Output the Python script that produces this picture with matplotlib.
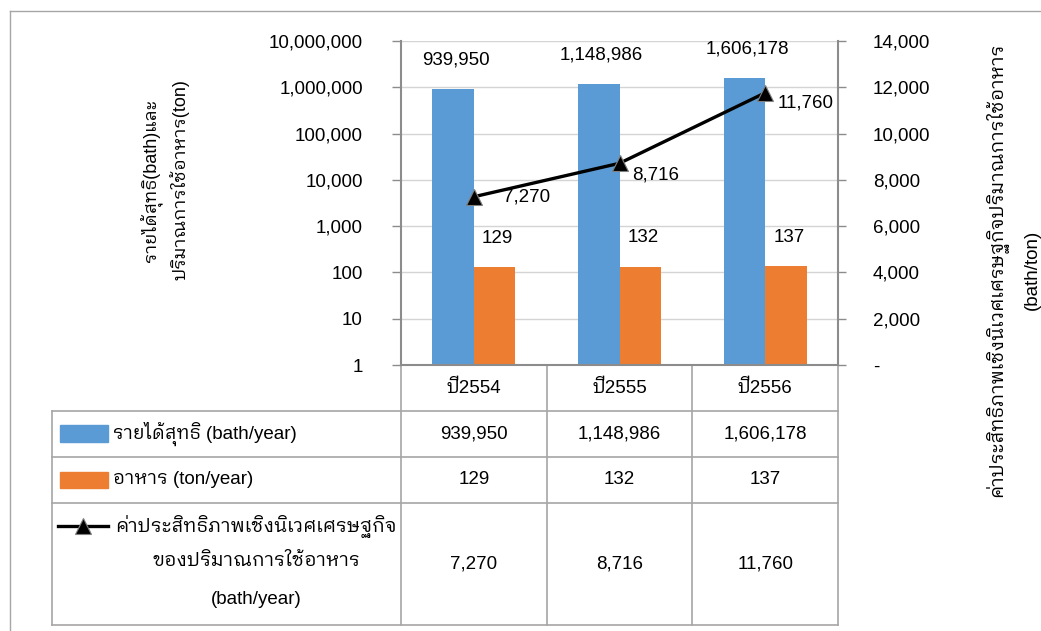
import matplotlib
matplotlib.use("Agg")
import matplotlib.pyplot as plt
from matplotlib.patches import Rectangle
from matplotlib.ticker import FuncFormatter, NullLocator

plt.rcParams['font.family'] = ['Liberation Sans', 'IBM Plex Sans Thai Looped', 'DejaVu Sans']

# data
years = ['ปี2554', 'ปี2555', 'ปี2556']
income = [939950, 1148986, 1606178]          # bath/year
food = [129, 132, 137]                       # ton/year
eco_eff = [7270, 8716, 11760]                # bath/ton

income_name = 'รายได้สุทธิ (bath/year)'
food_name = 'อาหาร (ton/year)'
eff_name = ['ค่าประสิทธิภาพเชิงนิเวศเศรษฐกิจ', 'ของปริมาณการใช้อาหาร', '(bath/year)']
left_title = ['รายได้สุทธิ(bath)และ', 'ปริมาณการใช้อาหาร(ton)']
right_title = ['ค่าประสิทธิภาพเชิงนิเวศเศรษฐกิจปริมาณการใช้อาหาร', '(bath/ton)']

BLUE = '#5b9bd5'
ORANGE = '#ed7d31'
GRID = '#d4d4d4'
EDGE = '#8c8c8c'
TABLE = '#a6a6a6'
FS = 13.5
FS_TH = 13.7   # lines that are all Thai script

W, H = 1041, 631
fig = plt.figure(figsize=(W / 100, H / 100), dpi=100)

# overlay in pixel units for the data table and titles
tab = fig.add_axes([0, 0, 1, 1])
tab.set_xlim(0, W)
tab.set_ylim(H, 0)
tab.axis('off')

ax = fig.add_axes([401 / W, (H - 365) / H, 437 / W, 324 / H])
ax.set_yscale('log')
ax.set_ylim(1, 1e7)
ax.set_xlim(-0.5, 2.5)
ax.set_yticks([10 ** k for k in range(8)])
ax.yaxis.set_minor_locator(NullLocator())
ax.yaxis.set_major_formatter(FuncFormatter(lambda v, p: f'{v:,.0f}'))
ax.set_xticks([])
ax.grid(axis='y', color=GRID, lw=1.0)
ax.set_axisbelow(True)
ax.tick_params(axis='y', direction='out', length=6.5, width=1, color=EDGE,
               pad=21, labelsize=FS)
ax.spines['top'].set_visible(False)
ax.spines['right'].set_visible(False)
for s in ('left', 'bottom'):
    ax.spines[s].set_color(EDGE)
    ax.spines[s].set_linewidth(1.5)

bw = 0.285
xs = list(range(len(years)))
b1 = ax.bar([x - bw / 2 for x in xs], income, width=bw, color=BLUE, bottom=1)
b2 = ax.bar([x + bw / 2 for x in xs], food, width=bw, color=ORANGE, bottom=1)
for bars, vals in ((b1, income), (b2, food)):
    for r, v in zip(bars, vals):
        ax.annotate(f'{v:,}', (r.get_x() + r.get_width() / 2, v),
                    xytext=(3, 29), textcoords='offset pixels',
                    ha='center', va='center', fontsize=FS)

ax2 = ax.twinx()
ax2.set_ylim(0, 14000)
ax2.set_yticks(range(0, 14001, 2000))
ax2.yaxis.set_major_formatter(FuncFormatter(lambda v, p: '-' if v == 0 else f'{v:,.0f}'))
ax2.tick_params(axis='y', direction='out', length=6, width=1, color=EDGE,
                pad=19, labelsize=FS)
for s in ('left', 'top', 'bottom'):
    ax2.spines[s].set_visible(False)
ax2.spines['right'].set_color(EDGE)
ax2.spines['right'].set_linewidth(1.5)
ax2.plot(xs, eco_eff, color='black', lw=2.4, marker='^', markersize=11,
         markerfacecolor='black', markeredgecolor='#808080', markeredgewidth=0.8)
eff_offsets = [(53, 0), (36, -12), (40, -10)]
for x, v, off in zip(xs, eco_eff, eff_offsets):
    ax2.annotate(f'{v:,}', (x, v), xytext=off, textcoords='offset pixels',
                 ha='center', va='center', fontsize=FS)

# axis titles
tab.text(152, 180, left_title[0], rotation=90, ha='center', va='center', fontsize=13)
tab.text(180, 180, left_title[1], rotation=90, ha='center', va='center', fontsize=13)
tab.text(997, 270, right_title[0], rotation=90, ha='center', va='center', fontsize=FS_TH)
tab.text(1032, 270, right_title[1], rotation=90, ha='center', va='center', fontsize=FS)

# data table under the plot
pos = ax.get_position()
x0, x1 = pos.x0 * W, pos.x1 * W
n = len(years)
edges = [x0 + i * (x1 - x0) / n for i in range(n + 1)]
centers = [(edges[i] + edges[i + 1]) / 2 for i in range(n)]
y_top = H - pos.y0 * H
rows = [411, 457, 503, 625]
for y in rows:
    tab.plot([52, x1], [y, y], color=TABLE, lw=1.2)
tab.plot([52, 52], [rows[0], rows[-1]], color=TABLE, lw=1.2)
for e in edges:
    tab.plot([e, e], [y_top, rows[-1]], color=TABLE, lw=1.2)

for c, yr, a, b, e in zip(centers, years, income, food, eco_eff):
    tab.text(c, (y_top + rows[0]) / 2, yr, ha='center', va='center', fontsize=FS)
    tab.text(c, (rows[0] + rows[1]) / 2, f'{a:,}', ha='center', va='center', fontsize=FS)
    tab.text(c, (rows[1] + rows[2]) / 2, f'{b:,}', ha='center', va='center', fontsize=FS)
    tab.text(c, (rows[2] + rows[3]) / 2, f'{e:,}', ha='center', va='center', fontsize=FS)

# legend keys inside the first column
tab.add_patch(Rectangle((60, 425), 48, 17, color=BLUE))
tab.text(113, 434, income_name, ha='left', va='center', fontsize=FS)
tab.add_patch(Rectangle((60, 472), 48, 16, color=ORANGE))
tab.text(113, 480, food_name, ha='left', va='center', fontsize=FS)
tab.plot([58, 108], [526, 526], color='black', lw=2.4)
tab.plot([83], [526], marker='^', markersize=11, color='black',
         markeredgecolor='#808080', markeredgewidth=0.8)
for yy, s, fs in zip([526, 562, 600], eff_name, [FS_TH, FS_TH, FS]):
    tab.text(256, yy, s, ha='center', va='center', fontsize=fs)

# outer frame line
tab.plot([10, W], [11, 11], color=TABLE, lw=1)
tab.plot([10, 10], [11, H], color=TABLE, lw=1)

fig.savefig('out.png', dpi=100)
